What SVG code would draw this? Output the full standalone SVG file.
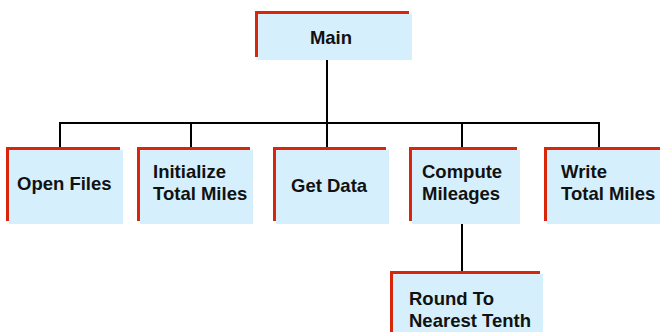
<svg xmlns="http://www.w3.org/2000/svg" width="660" height="332" viewBox="0 0 660 332">
  <style>
    .edge { fill: #d8260a; }
    .face { fill: #d5effc; }
    .lbl { font-family: "Liberation Sans", Arial, sans-serif; font-weight: bold; font-size: 18.5px; fill: #111; }
    .wire { stroke: #000; stroke-width: 2; fill: none; }
  </style>
  <rect width="660" height="332" fill="#fff"/>
  <g id="connectors">
    <line class="wire" x1="327" y1="60" x2="327" y2="123"/>
    <polyline class="wire" points="60,150 60,123 599,123 599,150"/>
    <line class="wire" x1="191" y1="123" x2="191" y2="150"/>
    <line class="wire" x1="327" y1="123" x2="327" y2="150"/>
    <line class="wire" x1="462" y1="123" x2="462" y2="150"/>
    <line class="wire" x1="462" y1="222" x2="462" y2="274"/>
  </g>
  <g id="main">
    <rect class="edge" x="255" y="11" width="154" height="46"/>
    <rect class="face" x="258" y="14" width="154" height="46"/>
    <text class="lbl" x="331" y="44" text-anchor="middle">Main</text>
  </g>
  <g id="open-files">
    <rect class="edge" x="6" y="147" width="114" height="74"/>
    <rect class="face" x="9" y="150" width="114" height="74"/>
    <text class="lbl" x="17" y="190">Open Files</text>
  </g>
  <g id="initialize-total-miles">
    <rect class="edge" x="137" y="147" width="113" height="74"/>
    <rect class="face" x="140" y="150" width="113" height="74"/>
    <text class="lbl" x="153" y="178">Initialize</text>
    <text class="lbl" x="153" y="200">Total Miles</text>
  </g>
  <g id="get-data">
    <rect class="edge" x="273" y="147" width="113" height="74"/>
    <rect class="face" x="276" y="150" width="113" height="74"/>
    <text class="lbl" x="291" y="192">Get Data</text>
  </g>
  <g id="compute-mileages">
    <rect class="edge" x="409" y="147" width="108" height="74"/>
    <rect class="face" x="412" y="150" width="108" height="74"/>
    <text class="lbl" x="422" y="178">Compute</text>
    <text class="lbl" x="422" y="200">Mileages</text>
  </g>
  <g id="write-total-miles">
    <rect class="edge" x="544" y="147" width="116" height="74"/>
    <rect class="face" x="547" y="150" width="116" height="74"/>
    <text class="lbl" x="561" y="178">Write</text>
    <text class="lbl" x="561" y="200">Total Miles</text>
  </g>
  <g id="round-to-nearest-tenth">
    <rect class="edge" x="390" y="271" width="150" height="70"/>
    <rect class="face" x="393" y="274" width="150" height="70"/>
    <text class="lbl" x="409" y="305">Round To</text>
    <text class="lbl" x="409" y="327">Nearest Tenth</text>
  </g>
</svg>
